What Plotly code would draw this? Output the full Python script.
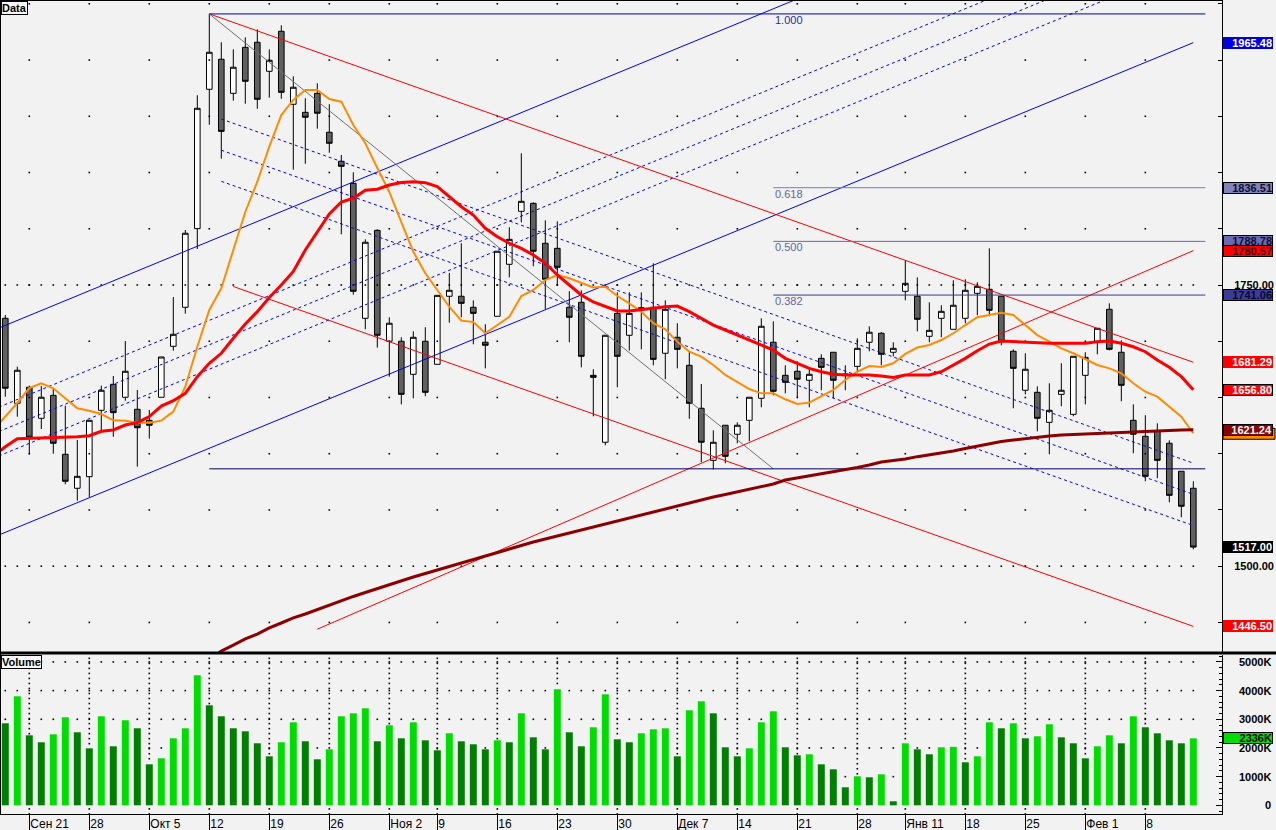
import numpy as np
import plotly.graph_objects as go

FONT = "Liberation Sans"

# ---------------- data ----------------
week_idx = [2, 7, 12, 17, 22, 27, 32, 36, 41, 46, 51, 56, 61, 66, 71, 75, 80, 85, 90, 95]
week_lbl = ["Сен 21", "28", "Окт 5", "12", "19", "26", "Ноя 2", "9", "16", "23", "30",
            "Дек 7", "14", "21", "28", "Янв 11", "18", "25", "Фев 1", "8"]

open_ = [1720.4, 1644.8, 1659.1, 1631.5, 1651.9, 1599.5, 1569.3, 1579.6, 1638.6, 1661.7,
         1650.2, 1639.5, 1629.7, 1650.2, 1695.5, 1730.2, 1800.1, 1924.0, 1950.7, 1920.4,
         1961.3, 1965.8, 1940.0, 1975.6, 1910.7, 1903.5, 1920.4, 1885.8, 1860.0, 1840.4,
         1720.4, 1798.6, 1700.0, 1700.0, 1670.6, 1700.0, 1679.5, 1740.0, 1740.0, 1730.2,
         1699.1, 1722.2, 1768.4, 1815.5, 1822.6, 1787.1, 1782.6, 1730.2, 1734.6, 1669.7,
         1610.2, 1724.8, 1705.3, 1729.8, 1730.2, 1689.3, 1703.5, 1678.6, 1640.4, 1594.1,
         1625.3, 1617.3, 1629.7, 1649.3, 1699.1, 1669.7, 1673.3, 1665.3, 1684.8, 1690.2,
         1670.9, 1677.7, 1699.1, 1707.1, 1690.2, 1744.4, 1740.0, 1704.4, 1720.4, 1710.6,
         1720.4, 1742.6, 1746.2, 1740.0, 1691.1, 1656.4, 1654.6, 1627.9, 1652.8, 1635.0,
         1669.7, 1700.0, 1728.4, 1690.2, 1629.7, 1615.5, 1619.9, 1609.3, 1584.4, 1569.3]

high = [1723.3, 1677.4, 1660.5, 1660.2, 1658.2, 1642.7, 1612.2, 1629.7, 1660.5, 1669.1,
        1700.2, 1656.7, 1638.9, 1686.0, 1739.3, 1798.9, 1918.7, 1991.0, 1965.8, 1959.5,
        1970.2, 1977.3, 1959.5, 1980.9, 1935.5, 1916.0, 1929.3, 1910.7, 1865.6, 1850.2,
        1790.6, 1799.5, 1721.3, 1703.5, 1708.8, 1712.4, 1740.8, 1760.7, 1787.1, 1736.4,
        1715.1, 1780.0, 1801.3, 1867.1, 1823.5, 1807.5, 1806.6, 1744.4, 1745.3, 1675.1,
        1705.3, 1743.5, 1743.5, 1743.5, 1769.3, 1736.4, 1716.0, 1691.1, 1662.0, 1620.8,
        1625.3, 1627.9, 1650.2, 1720.4, 1717.7, 1678.6, 1682.2, 1676.8, 1688.4, 1690.2,
        1678.6, 1702.6, 1713.3, 1708.0, 1699.1, 1772.0, 1756.8, 1734.6, 1732.0, 1754.2,
        1755.1, 1752.4, 1782.6, 1740.0, 1692.8, 1689.3, 1659.9, 1662.6, 1680.4, 1686.6,
        1690.2, 1711.5, 1733.7, 1700.8, 1643.9, 1634.2, 1627.0, 1611.9, 1584.4, 1575.5]

low = [1650.7, 1632.9, 1599.5, 1622.0, 1600.0, 1572.8, 1558.2, 1561.3, 1620.5, 1615.1,
       1647.1, 1588.5, 1613.4, 1650.2, 1691.6, 1724.5, 1782.0, 1892.5, 1862.3, 1913.9,
       1911.2, 1906.7, 1916.5, 1915.6, 1852.5, 1857.8, 1889.0, 1867.6, 1795.1, 1741.4,
       1710.6, 1694.3, 1668.5, 1643.9, 1649.3, 1651.1, 1679.5, 1716.5, 1721.3, 1697.3,
       1675.9, 1722.2, 1756.8, 1805.7, 1766.6, 1728.4, 1749.7, 1699.1, 1676.8, 1633.3,
       1607.5, 1659.1, 1691.8, 1692.8, 1678.6, 1666.2, 1675.9, 1631.1, 1592.4, 1586.1,
       1591.5, 1609.3, 1611.0, 1641.3, 1651.9, 1653.7, 1650.2, 1641.3, 1656.4, 1649.3,
       1656.4, 1672.7, 1691.1, 1678.6, 1686.6, 1736.4, 1708.8, 1699.1, 1703.5, 1710.6,
       1716.0, 1723.1, 1722.2, 1696.4, 1640.4, 1652.8, 1619.9, 1599.5, 1642.2, 1633.3,
       1643.9, 1688.4, 1691.9, 1646.6, 1600.4, 1575.5, 1578.2, 1556.8, 1543.5, 1515.0]

close = [1658.2, 1674.2, 1614.6, 1650.2, 1609.3, 1575.5, 1579.9, 1629.7, 1656.4, 1636.5,
         1673.3, 1623.1, 1625.3, 1686.0, 1706.2, 1796.0, 1907.1, 1956.9, 1886.6, 1943.6,
         1931.1, 1915.1, 1949.8, 1921.3, 1925.8, 1899.1, 1902.7, 1876.0, 1855.5, 1744.4,
         1788.0, 1705.3, 1716.0, 1652.8, 1703.5, 1654.6, 1740.8, 1745.3, 1733.7, 1724.8,
         1696.4, 1780.0, 1790.6, 1824.4, 1780.0, 1755.1, 1765.7, 1721.3, 1686.6, 1667.9,
         1705.3, 1686.6, 1724.8, 1728.9, 1683.9, 1728.4, 1692.8, 1644.8, 1610.2, 1610.2,
         1597.7, 1625.3, 1650.2, 1713.3, 1655.5, 1663.5, 1666.2, 1670.6, 1676.8, 1665.3,
         1670.3, 1693.7, 1708.0, 1688.4, 1693.7, 1751.5, 1719.5, 1709.7, 1726.6, 1732.0,
         1745.3, 1748.8, 1727.5, 1700.0, 1675.9, 1675.1, 1631.5, 1638.6, 1656.4, 1686.6,
         1685.7, 1711.5, 1692.8, 1660.8, 1617.3, 1579.9, 1594.1, 1563.0, 1553.3, 1517.0]

volume_k = [2860, 3802, 2442, 2198, 2477, 3070, 2547, 1988, 3105, 2058,
            2965, 2686, 1430, 1640, 2337, 2686, 4535, 3488, 3105, 2686,
            2581, 2163, 1709, 2198, 2895, 2233, 1605, 1953, 3105, 3209,
            3384, 2233, 2791, 2337, 2895, 2267, 1919, 2512, 2233, 2128,
            1953, 2267, 2198, 3209, 2372, 1953, 4047, 2547, 2058, 2721,
            3872, 2302, 2198, 2512, 2651, 2686, 1709, 3314, 3628, 3209,
            2023, 1709, 1988, 2895, 3279, 2023, 1744, 1779, 1430, 1256,
            628, 1012, 977, 1081, 140, 2163, 1953, 1779, 2023, 2040,
            1500, 1709, 2895, 2686, 2860, 2337, 2407, 2826, 2372, 2163,
            1640, 2058, 2442, 2163, 3105, 2721, 2512, 2267, 2163, 2336]

# moving averages, orange & red start one bar before the first candle
ma_fast = [1621.1, 1632.9, 1645.1, 1658.4, 1662.6, 1658.2, 1649.3, 1640.4, 1638.2, 1635.3, 1629.7,
           1629.4, 1627.6, 1627.6, 1629.4, 1637.4, 1659.6, 1695.1, 1727.8, 1747.1, 1781.1,
           1814.9, 1841.8, 1873.0, 1901.1, 1914.5, 1923.4, 1923.4, 1915.4, 1913.0, 1892.2,
           1876.0, 1854.0, 1832.7, 1806.0, 1779.6, 1760.4, 1745.6, 1730.7, 1718.3, 1717.1,
           1707.1, 1714.4, 1721.8, 1740.2, 1745.6, 1754.4, 1758.9, 1756.0, 1752.2, 1747.8,
           1748.5, 1740.2, 1733.7, 1726.3, 1716.0, 1710.6, 1699.6, 1690.7, 1686.3, 1678.9,
           1670.0, 1664.0, 1657.5, 1653.7, 1653.7, 1648.4, 1644.2, 1645.4, 1650.7, 1656.7,
           1665.5, 1672.9, 1678.0, 1677.1, 1680.4, 1688.7, 1694.4, 1696.7, 1701.1, 1707.1,
           1714.4, 1721.3, 1723.3, 1725.4, 1723.3, 1714.4, 1705.5, 1699.6, 1693.7, 1689.3,
           1683.9, 1678.9, 1675.9, 1671.5, 1662.6, 1655.1, 1650.7, 1641.8, 1632.9, 1618.2]

ma_mid = [1598.0, 1606.2, 1613.4, 1613.7, 1614.0, 1614.0, 1614.2, 1615.1, 1616.0, 1619.9, 1621.1,
          1625.5, 1627.6, 1633.0, 1642.4, 1647.1, 1653.7, 1668.5, 1680.4, 1689.3, 1702.6,
          1715.3, 1726.3, 1738.9, 1750.0, 1762.0, 1781.1, 1797.6, 1813.1, 1823.8, 1827.1,
          1834.2, 1835.1, 1838.9, 1841.1, 1841.8, 1841.0, 1837.4, 1828.5, 1819.6, 1812.2,
          1800.4, 1792.9, 1787.1, 1782.6, 1776.7, 1769.3, 1758.9, 1750.0, 1741.1, 1734.9,
          1730.7, 1726.9, 1726.9, 1727.8, 1729.3, 1730.7, 1731.3, 1726.3, 1720.4, 1714.4,
          1710.0, 1705.5, 1701.1, 1696.7, 1692.2, 1684.8, 1680.4, 1675.9, 1672.9, 1670.6,
          1670.0, 1670.0, 1670.0, 1669.1, 1667.8, 1670.0, 1670.0, 1670.0, 1672.9, 1678.9,
          1684.8, 1691.6, 1697.5, 1700.2, 1699.6, 1699.6, 1698.7, 1698.2, 1698.2, 1698.2,
          1698.2, 1699.6, 1700.2, 1698.2, 1695.1, 1690.7, 1683.3, 1676.8, 1668.5, 1656.8]

ma_slow_start = 17
ma_slow = [1416.6, 1424.6, 1429.9, 1435.3, 1439.7, 1445.1, 1449.5, 1454.0, 1457.5, 1461.5,
           1465.5, 1469.5, 1473.1, 1476.6, 1480.2, 1483.3, 1486.8, 1490.4, 1493.5, 1496.6,
           1500.2, 1502.8, 1506.4, 1509.5, 1512.6, 1515.7, 1518.4, 1521.5, 1524.2, 1526.9,
           1529.5, 1532.2, 1534.9, 1537.5, 1540.2, 1542.8, 1545.5, 1548.2, 1550.9, 1553.5,
           1556.2, 1558.9, 1561.5, 1563.7, 1566.0, 1568.6, 1570.9, 1573.1, 1576.6, 1578.4,
           1580.2, 1582.0, 1583.8, 1585.5, 1587.8, 1590.0, 1592.6, 1594.0, 1595.3, 1597.4,
           1598.9, 1600.6, 1602.4, 1604.6, 1606.9, 1609.1, 1610.9, 1612.2, 1613.5, 1614.4,
           1615.8, 1616.6, 1617.1, 1617.5, 1618.2, 1618.6, 1619.1, 1619.6, 1620.2, 1620.6,
           1621.1, 1621.1, 1621.24]

# drawing tools (anchor points: bar index, price)
fib_x = [17, 100]
fib_hi = 1991.004
fib_lo = 1586.564
fib_lvl_start = 64
fib_ratios = [0.618, 0.5, 0.382]
fib_ratio_lbl = ["0.618", "0.500", "0.382"]
fib_ratio_col = ["#7C7CB8", "#6464C4", "#3A3A8C"]
fib_diag_x = [17, 64]

fall_x = [17, 99]
fall_top = [1991.03, 1681.29]
fall_bottom_end = 1446.50
fall_bottom_start_idx = 19
fall_dash_start_idx = 18
channel_ratios = [0.382, 0.5, 0.618]

rise_x = [-1, 99]
rise_bottom = [1525.7, 1965.48]
rise_width = 184.0

red_trend_x = [26, 99]
red_trend_y = [1444.0, 1780.57]

# right-hand price tags: value, background, text colour, border colour
tag_vals = [1965.48, 1836.51, 1788.78, 1780.57, 1741.06, 1681.29, 1656.80, 1621.24, 1517.00, 1446.50]
tag_bg = ["#0000E0", "#8282BE", "#6A6AB4", "#FF0000", "#3C3C96", "#FF0000", "#FF0000", "#8B0000", "#000000", "#FF0000"]
tag_fg = ["white", "#101030", "#101030", "#3A0000", "#0A0A30", "white", "white", "white", "white", "white"]
tag_bd = ["#0000E0", "#000000", "#000000", "#000000", "#000000", "#FF0000", "#000000", "#000000", "#000000", "#FF0000"]
hidden_tag_val = 1618.20   # orange MA tag, almost fully covered by the 1621.24 tag

vol_tick_vals = [0, 1000, 2000, 3000, 4000, 5000]

# ---------------- figure ----------------
PW, PH = 1222, 814          # plot area in px
n = len(close)
idx = list(range(n))

fig = go.Figure()


def add_line(x, y, color, width=1.0, dash=None, yaxis="y"):
    fig.add_trace(go.Scatter(x=x, y=y, mode="lines", yaxis=yaxis,
                             line=dict(color=color, width=width, dash=dash),
                             hoverinfo="skip", showlegend=False))


def add_dots(x, y, yaxis="y"):
    fig.add_trace(go.Scatter(x=x, y=y, mode="markers", yaxis=yaxis,
                             marker=dict(size=1.6, color="black", symbol="square", line=dict(width=0)),
                             hoverinfo="skip", showlegend=False))


# grid dots, price pane
price_levels = list(range(1450, 2001, 50))
add_dots([w for w in week_idx for p in price_levels], [p for w in week_idx for p in price_levels])
for lvl in [1500, 1750]:
    add_dots(idx, [lvl] * n)

# grid dots, volume pane (hidden behind the bars)
rx, ry = [], []
for v in vol_tick_vals[1:]:
    for i in idx:
        if volume_k[i] < v - 40:
            rx.append(i)
            ry.append(v)
vcol = list(np.arange(-300, 5240, 175))
for w in week_idx:
    for v in vcol:
        if v < -40 or v > volume_k[w] + 40:
            rx.append(w)
            ry.append(v)
add_dots(rx, ry, yaxis="y2")

# rising fibonacci channel (blue)
add_line(rise_x, rise_bottom, "#0000F0")
add_line(rise_x, [b + rise_width for b in rise_bottom], "#0000F0")
for r in channel_ratios:
    add_line(rise_x, [b + r * rise_width for b in rise_bottom], "#0000F0", dash="3px,3px")

# falling channel (red) with blue dashed fibonacci levels
slope = (fall_top[1] - fall_top[0]) / (fall_x[1] - fall_x[0])
width_fall = fall_top[1] - fall_bottom_end
add_line(fall_x, fall_top, "#FF0000")
add_line([fall_bottom_start_idx, fall_x[1]],
         [fall_top[0] + slope * (fall_bottom_start_idx - fall_x[0]) - width_fall, fall_bottom_end], "#FF0000")
for r in channel_ratios:
    ys = fall_top[0] + slope * (fall_dash_start_idx - fall_x[0]) - r * width_fall
    add_line([fall_dash_start_idx, fall_x[1]], [ys, fall_top[1] - r * width_fall], "#0000F0", dash="3px,3px")

# rising red trend line
add_line(red_trend_x, red_trend_y, "#FF0000")

# fibonacci retracement
add_line(fib_diag_x, [fib_hi, fib_lo], "#707070")
add_line(fib_x, [fib_hi, fib_hi], "#0000A8")
add_line(fib_x, [fib_lo, fib_lo], "#000060")
for r, c in zip(fib_ratios, fib_ratio_col):
    lv = fib_lo + r * (fib_hi - fib_lo)
    add_line([fib_lvl_start, fib_x[1]], [lv, lv], c)

# moving averages
add_line(list(range(-1, n)), ma_fast, "#FF8C00", width=2)
add_line(list(range(-1, n)), ma_mid, "#FF0000", width=3)
add_line(list(range(ma_slow_start, n)), ma_slow, "#8B0000", width=3)

# candles
fig.add_trace(go.Candlestick(
    x=idx, open=open_, high=high, low=low, close=close,
    increasing=dict(line=dict(color="black", width=1), fillcolor="white"),
    decreasing=dict(line=dict(color="black", width=1), fillcolor="#606060"),
    whiskerwidth=0, showlegend=False, hoverinfo="skip"))

# volume
vol_colors = ["#008000"] + ["#00DD00" if volume_k[i] > volume_k[i - 1] else "#008000" for i in range(1, n)]
fig.add_trace(go.Bar(x=idx, y=volume_k, yaxis="y2", width=0.58, marker=dict(color=vol_colors, line=dict(width=0)),
                     hoverinfo="skip", showlegend=False))

annotations = []
# fibonacci labels
annotations.append(dict(x=fib_lvl_start, y=fib_hi, xref="x", yref="y", text="1.000", showarrow=False,
                        xanchor="left", yanchor="top", yshift=2,
                        font=dict(family=FONT, size=11, color="#2A2AA0")))
for r, lbl in zip(fib_ratios, fib_ratio_lbl):
    lv = fib_lo + r * (fib_hi - fib_lo)
    annotations.append(dict(x=fib_lvl_start, y=lv, xref="x", yref="y", text=lbl, showarrow=False,
                            xanchor="left", yanchor="top", yshift=2,
                            font=dict(family=FONT, size=11, color="#6464A4")))

# price tags
for v, bg, fg, bd in zip(tag_vals, tag_bg, tag_fg, tag_bd):
    annotations.append(dict(x=1223 / PW, y=v, xref="paper", yref="y", text=f"{v:.2f}", showarrow=False,
                            xanchor="left", yanchor="middle", width=48, height=10, align="right",
                            bgcolor=bg, bordercolor=bd, borderwidth=1, borderpad=0,
                            font=dict(family=FONT, size=11, color=fg, weight="bold")))

# volume axis labels
for v in vol_tick_vals:
    annotations.append(dict(x=1273 / PW, y=v, xref="paper", yref="y2", text=("0" if v == 0 else f"{v}K"),
                            showarrow=False, xanchor="right", yanchor="middle",
                            font=dict(family=FONT, size=11, color="black", weight="bold")))
annotations.append(dict(x=1223 / PW, y=volume_k[-1], xref="paper", yref="y2", text=f"{volume_k[-1]}K",
                        showarrow=False, xanchor="left", yanchor="middle", width=48, height=10, align="right",
                        bgcolor="#00DD00", bordercolor="black", borderwidth=1, borderpad=0,
                        font=dict(family=FONT, size=11, color="black", weight="bold")))

# pane titles
annotations.append(dict(x=1 / PW, y=1 - 1 / PH, xref="paper", yref="paper", text="Data", showarrow=False,
                        xanchor="left", yanchor="top", bgcolor="#F8F8F8", bordercolor="black",
                        borderwidth=1, borderpad=0, font=dict(family=FONT, size=11, color="black", weight="bold")))
annotations.append(dict(x=1 / PW, y=1 - 655 / PH, xref="paper", yref="paper", text="Volume", showarrow=False,
                        xanchor="left", yanchor="top", bgcolor="#F8F8F8", bordercolor="black",
                        borderwidth=1, borderpad=0, font=dict(family=FONT, size=11, color="black", weight="bold")))

# price pane scale (px per price unit) for the almost-hidden orange tag strip
y_lo, y_hi = 1423.72, 2003.38
ppu = 652 / (y_hi - y_lo)
shapes = [
    dict(type="line", xref="paper", yref="paper", x0=0, x1=1, y0=1, y1=1, line=dict(color="black", width=2)),
    dict(type="line", xref="paper", yref="paper", x0=0, x1=0, y0=0, y1=1, line=dict(color="black", width=2)),
    dict(type="line", xref="paper", yref="paper", x0=0, x1=1276 / PW, y0=1 - 653 / PH, y1=1 - 653 / PH,
         line=dict(color="black", width=3)),
    dict(type="rect", xref="paper", yref="y", x0=1223 / PW, x1=1275 / PW,
         y0=hidden_tag_val - 6 / ppu, y1=hidden_tag_val + 5 / ppu,
         fillcolor="#FF8C00", line=dict(color="black", width=1), layer="below"),
]

price_ticktext = [f"{p:.2f}" if p in (1500, 1750) else "" for p in price_levels]

fig.update_layout(
    width=1276, height=830,
    margin=dict(l=0, r=54, t=0, b=16, pad=0),
    paper_bgcolor="#F2F2F2", plot_bgcolor="#F2F2F2",
    showlegend=False, boxgap=0.33, hovermode=False,
    annotations=annotations, shapes=shapes,
    xaxis=dict(domain=[0, 1], range=[-0.4417, 101.39], anchor="y2", showgrid=False, zeroline=False,
               tickmode="array", tickvals=week_idx, ticktext=week_lbl,
               ticks="outside", ticklen=16, tickwidth=1, tickcolor="black",
               ticklabelposition="outside right", ticklabelstandoff=-1,
               tickfont=dict(family=FONT, size=12, color="black"),
               showline=True, linecolor="black", linewidth=1,
               rangeslider=dict(visible=False), fixedrange=True),
    yaxis=dict(domain=[1 - 652 / PH, 1], range=[y_lo, y_hi], side="right", anchor="x",
               showgrid=False, zeroline=False, tickmode="array", tickvals=price_levels, ticktext=price_ticktext,
               ticks="inside", ticklen=4, tickcolor="black", ticklabelstandoff=9,
               tickfont=dict(family=FONT, size=11, color="black", weight="bold"),
               showline=True, linecolor="black", linewidth=1, fixedrange=True),
    yaxis2=dict(domain=[0, 159 / PH], range=[-303, 5242], side="right", anchor="x",
                showgrid=False, zeroline=False, tickmode="linear", tick0=0, dtick=1000,
                ticks="inside", ticklen=6, tickcolor="black", showticklabels=False,
                minor=dict(ticks="inside", ticklen=3, dtick=200, tick0=0, tickcolor="black"),
                showline=True, linecolor="black", linewidth=1, fixedrange=True),
)

fig.write_html("out.html", config=dict(displayModeBar=False),
               post_script="document.body.style.margin='0px';")
